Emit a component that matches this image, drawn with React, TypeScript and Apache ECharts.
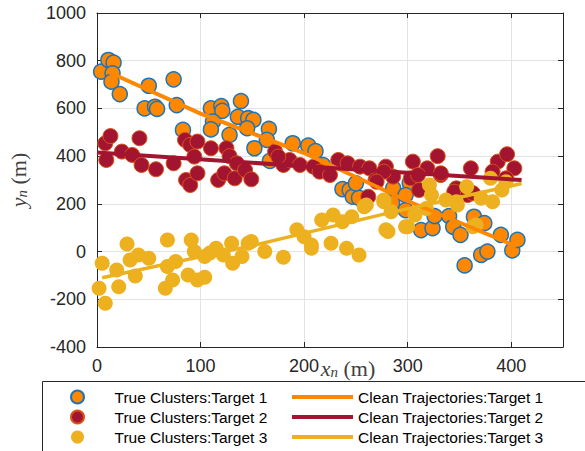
import React, { useEffect, useRef } from "react";
import * as echarts from "echarts";

// ---- data ----
const clusterNames = [
  "True Clusters:Target 1",
  "True Clusters:Target 2",
  "True Clusters:Target 3",
];
const trajNames = [
  "Clean Trajectories:Target 1",
  "Clean Trajectories:Target 2",
  "Clean Trajectories:Target 3",
];

const target1Points: number[][] = [
  [4, 754], [11, 803], [16, 792], [15, 747], [14, 712], [22, 660], [50, 695], [74, 722],
  [46, 600], [56, 607], [58, 598], [77, 614], [83, 510], [110, 600], [120, 610], [121, 590],
  [112, 545], [110, 512], [139, 631], [136, 565], [146, 559], [151, 552], [145, 517], [128, 489],
  [166, 514], [164, 468], [152, 433], [189, 454], [204, 444], [211, 421], [218, 363], [167, 380],
  [237, 262], [244, 258], [247, 230], [253, 225], [250, 286], [286, 265], [285, 204], [298, 174],
  [302, 287], [298, 237], [313, 90], [324, 98], [326, 149], [340, 149], [344, 104], [351, 70],
  [364, 146], [374, 119], [355, -58], [371, -14], [377, 0], [390, 70], [401, 5], [406, 49],
];

const target2Points: number[][] = [
  [8, 454], [13, 484], [9, 384], [24, 419], [34, 405], [41, 475], [43, 363], [57, 345],
  [74, 370], [85, 468], [90, 447], [97, 461], [94, 398], [86, 300], [90, 279], [97, 328],
  [110, 433], [125, 433], [128, 400], [117, 300], [123, 328], [133, 307], [135, 370], [143, 342],
  [149, 303], [172, 419], [180, 363], [186, 384], [175, 398], [196, 363], [209, 356], [215, 335],
  [225, 321], [233, 384], [242, 370], [254, 356], [263, 349], [269, 300], [262, 230], [279, 356],
  [286, 314], [277, 335], [270, 293], [305, 377], [303, 307], [319, 349], [329, 400], [310, 321],
  [332, 321], [311, 258], [347, 265], [345, 251], [361, 349], [358, 237], [363, 245], [387, 377],
  [396, 408], [403, 349], [382, 335], [395, 307], [332, 328],
];

const target3Points: number[][] = [
  [5, -49], [2, -154], [8, -217], [19, -77], [21, -147], [29, 32], [32, -35], [37, -102],
  [40, -14], [50, -28], [68, 49], [66, -154], [68, -63], [73, -119], [76, -42], [88, -98],
  [91, 49], [94, 0], [97, -119], [104, -108], [104, -21], [109, -6], [115, 14], [122, -14],
  [130, 35], [131, -49], [140, -21], [146, 35], [149, 42], [162, 0], [180, -24], [193, 91],
  [200, 62], [207, 14], [217, 132], [228, 153], [226, 35], [241, 14], [237, 125], [246, 146],
  [253, -14], [258, 188], [279, 91], [277, 216], [207, 28], [260, 195], [281, 84], [277, 209],
  [284, 167], [300, 104], [307, 153], [321, 279], [323, 237], [318, 181], [337, 216], [347, 209],
  [357, 272], [363, 104], [371, 223], [382, 209], [380, 307], [395, 293], [391, 258], [348, 195],
  [366, 111], [298, 104],
];

const traj1X = [10, 100, 200, 300, 405];
const traj1Y = [755, 578, 413, 212, 22];
const traj2X = [0, 200, 410];
const traj2Y = [415, 358, 300];
const traj3X = [5, 150, 280, 410];
const traj3Y = [-110, 25, 160, 285];

const xTickLabels = [0, 100, 200, 300, 400];
const yTickLabels = [-400, -200, 0, 200, 400, 600, 800, 1000];

const C1 = "#FF8800";
const C1_EDGE = "#1F74B8";
const C2 = "#A2142F";
const C2_EDGE = "#D95319";
const C3 = "#EDB120";
const AXIS = "#262626";
const GRID = "#E3E3E3";
const FONT = "Liberation Sans, Arial, sans-serif";
const SERIF = "Liberation Serif, DejaVu Serif, serif";

const zip = (xs: number[], ys: number[]) => xs.map((x, i) => [x, ys[i]]);

const makeRich = (leftPad: number) => ({
  i: { fontFamily: SERIF, fontStyle: "italic", fontSize: 22, color: "#404040", lineHeight: 26, verticalAlign: "bottom", padding: [0, 0, 0, leftPad] },
  s: { fontFamily: SERIF, fontStyle: "italic", fontSize: 15, color: "#404040", lineHeight: 18, verticalAlign: "bottom" },
  r: { fontFamily: SERIF, fontSize: 22, color: "#404040", lineHeight: 26, verticalAlign: "bottom" },
});

export default function App() {
  const ref = useRef<HTMLDivElement>(null);
  useEffect(() => {
    if (!ref.current) return;
    const chart = echarts.init(ref.current, undefined, { renderer: "svg" });
    const axisCommon = {
      axisLine: { show: true, onZero: false, lineStyle: { color: AXIS, width: 1 } },
      axisTick: { show: true, inside: true, length: 5, lineStyle: { color: AXIS, width: 1 } },
    };
    const legendCommon = {
      orient: "vertical",
      top: 389,
      padding: 0,
      itemGap: 4,
      selectedMode: false,
      textStyle: { fontSize: 15.5, lineHeight: 16, color: "#000", fontFamily: FONT },
    };
    const option: any = {
      animation: false,
      backgroundColor: "#ffffff",
      grid: { left: 97, right: 22, top: 13, bottom: 104, containLabel: false, outerBoundsMode: "none" },
      xAxis: [
        {
          type: "value",
          min: 0,
          max: 450,
          interval: 100,
          position: "bottom",
          ...axisCommon,
          axisLabel: {
            color: AXIS,
            fontSize: 18,
            fontFamily: FONT,
            margin: 10,
            showMaxLabel: false,
            formatter: (v: number) => (xTickLabels.includes(v) ? String(v) : ""),
          },
          splitLine: { show: true, lineStyle: { color: GRID, width: 1 } },
          name: "{i|x}{s|n}{r| (m)}",
          nameLocation: "middle",
          nameGap: 6,
          nameMoveOverlap: false,
          nameTextStyle: { rich: makeRich(36) },
        },
        {
          type: "value",
          min: 0,
          max: 450,
          interval: 100,
          position: "top",
          ...axisCommon,
          axisLabel: { show: false },
          splitLine: { show: false },
        },
      ],
      yAxis: [
        {
          type: "value",
          min: -400,
          max: 1000,
          interval: 200,
          position: "left",
          ...axisCommon,
          axisLabel: {
            color: AXIS,
            fontSize: 18,
            fontFamily: FONT,
            margin: 11,
            formatter: (v: number) => (yTickLabels.includes(v) ? String(v) : ""),
          },
          splitLine: { show: true, lineStyle: { color: GRID, width: 1 } },
          name: "{i|y}{s|n}{r| (m)}",
          nameLocation: "middle",
          nameGap: 68,
          nameMoveOverlap: false,
          nameTextStyle: { rich: makeRich(0) },
        },
        {
          type: "value",
          min: -400,
          max: 1000,
          interval: 200,
          position: "right",
          ...axisCommon,
          axisLabel: { show: false },
          splitLine: { show: false },
        },
      ],
      legend: [
        {
          ...legendCommon,
          data: clusterNames,
          left: 70,
          itemWidth: 64,
          itemHeight: 13,
        },
        {
          ...legendCommon,
          data: trajNames,
          left: 292,
          itemWidth: 61,
          itemHeight: 4,
          icon: "rect",
        },
      ],
      graphic: [
        {
          type: "rect",
          shape: { x: 42.5, y: 381.5, width: 560, height: 90 },
          style: { fill: "none", stroke: AXIS, lineWidth: 1 },
          z: 0,
          silent: true,
        },
      ],
      series: [
        {
          type: "scatter",
          name: clusterNames[0],
          data: target1Points,
          symbol: "circle",
          symbolSize: 15,
          itemStyle: { color: C1, borderColor: C1_EDGE, borderWidth: 1.5, opacity: 1 },
        },
        {
          type: "scatter",
          name: clusterNames[1],
          data: target2Points,
          symbol: "circle",
          symbolSize: 15,
          itemStyle: { color: C2, borderColor: C2_EDGE, borderWidth: 1, opacity: 1 },
        },
        {
          type: "scatter",
          name: clusterNames[2],
          data: target3Points,
          symbol: "circle",
          symbolSize: 15,
          itemStyle: { color: C3, opacity: 1 },
        },
        {
          type: "line",
          name: trajNames[0],
          data: zip(traj1X, traj1Y),
          symbol: "none",
          showSymbol: false,
          lineStyle: { color: C1, width: 4 },
          itemStyle: { color: C1 },
        },
        {
          type: "line",
          name: trajNames[1],
          data: zip(traj2X, traj2Y),
          symbol: "none",
          showSymbol: false,
          lineStyle: { color: C2, width: 4 },
          itemStyle: { color: C2 },
        },
        {
          type: "line",
          name: trajNames[2],
          data: zip(traj3X, traj3Y),
          symbol: "none",
          showSymbol: false,
          lineStyle: { color: C3, width: 3.5 },
          itemStyle: { color: C3 },
        },
      ],
    };
    chart.setOption(option);
    return () => chart.dispose();
  }, []);
  return (
    <div
      ref={ref}
      style={{ position: "absolute", left: 0, top: 0, width: 585, height: 451, background: "#fff" }}
    />
  );
}
